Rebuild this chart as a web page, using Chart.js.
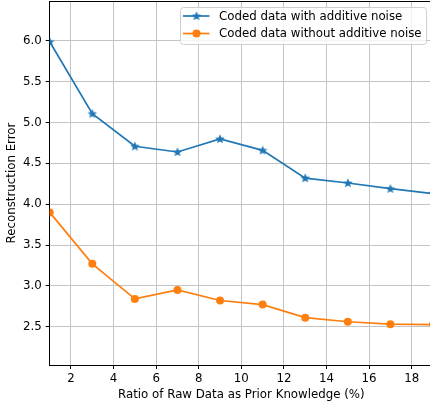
<!DOCTYPE html>
<html>
<head>
<meta charset="utf-8">
<script src="https://cdn.jsdelivr.net/npm/chart.js@4.4.0/dist/chart.umd.min.js"></script>
<style>
  html, body { margin: 0; padding: 0; background: #fff; overflow: hidden; }
  #wrap { width: 430px; height: 410px; overflow: hidden; position: relative; }
  #myChart { display: block; }
</style>
</head>
<body>
<div id="wrap"><canvas id="myChart" width="434" height="410"></canvas></div>
<script>
const ctx = document.getElementById('myChart');

// values
const ratioValues = [1, 3, 5, 7, 9, 11, 13, 15, 17, 19];
const withNoise = [5.99, 5.11, 4.71, 4.64, 4.80, 4.66, 4.32, 4.26, 4.19, 4.13];
const withoutNoise = [3.90, 3.27, 2.84, 2.95, 2.82, 2.77, 2.61, 2.56, 2.53, 2.525];
const seriesLabels = ['Coded data with additive noise', 'Coded data without additive noise'];
const seriesColors = ['#1f77b4', '#ff7f0e'];
const xTicks = [2, 4, 6, 8, 10, 12, 14, 16, 18];
const yTicks = [2.5, 3.0, 3.5, 4.0, 4.5, 5.0, 5.5, 6.0];

const FONT = "'DejaVu Sans', sans-serif";
const FS = 11.8;

// filled 5 point star like matplotlib '*'
function makeStar(color, r) {
  const c = document.createElement('canvas');
  const size = Math.ceil(r * 2 + 2);
  c.width = size; c.height = size;
  const g = c.getContext('2d');
  const cx = size / 2, cy = size / 2 + 0.3;
  g.beginPath();
  for (let i = 0; i < 10; i++) {
    const rad = i % 2 === 0 ? r : r * 0.45;
    const a = -Math.PI / 2 + i * Math.PI / 5;
    const px = cx + rad * Math.cos(a), py = cy + rad * Math.sin(a);
    if (i === 0) g.moveTo(px, py); else g.lineTo(px, py);
  }
  g.closePath();
  g.fillStyle = color;
  g.fill();
  return c;
}
const starImg = makeStar(seriesColors[0], 5);

const toPoints = (ys) => ratioValues.map((x, i) => ({x: x, y: ys[i]}));

// legend box in upper right + top spine
const extras = {
  id: 'extras',
  afterDraw(chart) {
    const c = chart.ctx;
    const a = chart.chartArea;
    c.save();
    // top spine
    c.strokeStyle = '#000';
    c.lineWidth = 1;
    c.beginPath();
    c.moveTo(a.left, a.top + 0.5);
    c.lineTo(a.right, a.top + 0.5);
    c.stroke();

    // legend
    const bx = 180.5, by = 7.5, bw = 246, bh = 37, r = 3;
    c.fillStyle = 'rgba(255,255,255,0.8)';
    c.strokeStyle = '#d0d0d0';
    c.beginPath();
    c.moveTo(bx + r, by);
    c.arcTo(bx + bw, by, bx + bw, by + bh, r);
    c.arcTo(bx + bw, by + bh, bx, by + bh, r);
    c.arcTo(bx, by + bh, bx, by, r);
    c.arcTo(bx, by, bx + bw, by, r);
    c.closePath();
    c.fill();
    c.stroke();

    const rows = [16, 33.5];
    c.font = FS + 'px ' + FONT;
    c.textBaseline = 'middle';
    c.textAlign = 'left';
    chart.data.datasets.forEach((ds, i) => {
      const y = rows[i];
      c.strokeStyle = ds.borderColor;
      c.lineWidth = 1.7;
      c.beginPath();
      c.moveTo(183, y);
      c.lineTo(209.5, y);
      c.stroke();
      if (i === 0) {
        c.drawImage(starImg, 196.5 - starImg.width / 2, y - starImg.height / 2);
      } else {
        c.fillStyle = ds.borderColor;
        c.beginPath();
        c.arc(196.5, y, 4, 0, Math.PI * 2);
        c.fill();
      }
      c.fillStyle = '#000';
      c.fillText(ds.label, 219, y + 0.5);
    });
    c.restore();
  }
};

new Chart(ctx, {
  type: 'line',
  data: {
    datasets: [{
      label: seriesLabels[0],
      data: toPoints(withNoise),
      borderColor: seriesColors[0],
      backgroundColor: seriesColors[0],
      borderWidth: 1.7,
      pointStyle: starImg,
      tension: 0
    }, {
      label: seriesLabels[1],
      data: toPoints(withoutNoise),
      borderColor: seriesColors[1],
      backgroundColor: seriesColors[1],
      borderWidth: 1.7,
      pointStyle: 'circle',
      pointRadius: 4,
      pointBorderWidth: 0,
      tension: 0
    }]
  },
  options: {
    responsive: false,
    animation: false,
    layout: {
      autoPadding: false,
      padding: {top: 1, right: 1, left: 0, bottom: 0}
    },
    plugins: {
      legend: {display: false},
      tooltip: {enabled: false}
    },
    scales: {
      x: {
        type: 'linear',
        min: 1,
        max: 19,
        afterFit(scale) {
          scale.height = 45;
          scale.paddingLeft = 0;
          scale.paddingRight = 0;
        },
        afterBuildTicks(scale) { scale.ticks = xTicks.map(v => ({value: v})); },
        grid: {color: '#c4c4c4', lineWidth: 1, tickColor: '#000', tickLength: 4, tickWidth: 1},
        border: {color: '#000', width: 1},
        ticks: {color: '#000', font: {family: FONT, size: FS}, padding: 3, maxRotation: 0},
        title: {
          display: true,
          text: 'Ratio of Raw Data as Prior Knowledge (%)',
          color: '#000',
          font: {family: FONT, size: FS},
          padding: {top: 0, bottom: 8}
        }
      },
      y: {
        min: 2.03,
        max: 6.49,
        afterFit(scale) {
          scale.width = 49.7;
          scale.paddingTop = 0;
          scale.paddingBottom = 0;
        },
        afterBuildTicks(scale) { scale.ticks = yTicks.map(v => ({value: v})); },
        grid: {color: '#c4c4c4', lineWidth: 1, tickColor: '#000', tickLength: 4, tickWidth: 1},
        border: {color: '#000', width: 1},
        ticks: {
          color: '#000',
          font: {family: FONT, size: FS},
          padding: 4,
          callback: (v) => Number(v).toFixed(1)
        },
        title: {
          display: true,
          text: 'Reconstruction Error',
          color: '#000',
          font: {family: FONT, size: FS},
          padding: {top: 5, bottom: 0}
        }
      }
    }
  },
  plugins: [extras]
});
</script>
</body>
</html>
